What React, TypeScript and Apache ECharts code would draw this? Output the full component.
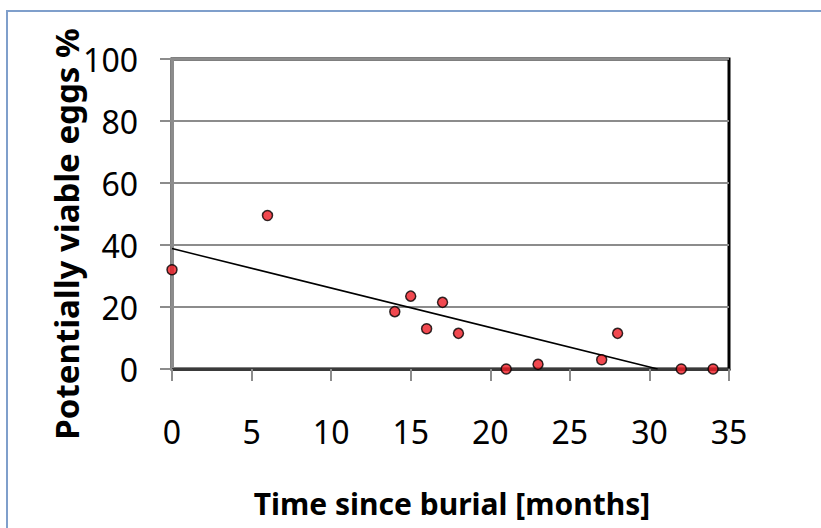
import React, { useEffect, useRef } from "react";
import * as echarts from "echarts";

const months = [0, 6, 14, 15, 16, 17, 18, 21, 23, 27, 28, 32, 34];
const viableEggs = [32, 49.5, 18.5, 23.5, 13, 21.5, 11.5, 0, 1.5, 3, 11.5, 0, 0];
const xTicks = { min: 0, max: 35, interval: 5 };
const yTicks = { min: 0, max: 100, interval: 20 };
const xTitle = "Time since burial [months]";
const yTitle = "Potentially viable eggs %";

function linearFit(xs: number[], ys: number[]) {
  const n = xs.length;
  const mx = xs.reduce((a, b) => a + b, 0) / n;
  const my = ys.reduce((a, b) => a + b, 0) / n;
  let sxy = 0, sxx = 0;
  for (let i = 0; i < n; i++) {
    sxy += (xs[i] - mx) * (ys[i] - my);
    sxx += (xs[i] - mx) * (xs[i] - mx);
  }
  const slope = sxy / sxx;
  return { slope, intercept: my - slope * mx };
}

export default function App() {
  const ref = useRef<HTMLDivElement>(null);
  useEffect(() => {
    if (!ref.current) return;
    const chart = echarts.init(ref.current, null, { renderer: "svg" });
    const { slope, intercept } = linearFit(months, viableEggs);
    const xZero = -intercept / slope;
    const trend = [
      [0, intercept],
      [Math.min(xZero, xTicks.max), Math.max(0, intercept + slope * Math.min(xZero, xTicks.max))],
    ];
    const font = "Noto Sans, sans-serif";
    chart.setOption({
      animation: false,
      backgroundColor: "#ffffff",
      grid: {
        left: 172,
        top: 59,
        width: 557,
        height: 310,
        show: true,
        borderColor: "#000000",
        borderWidth: 3,
        backgroundColor: "transparent",
      },
      xAxis: {
        type: "value",
        min: xTicks.min,
        max: xTicks.max,
        interval: xTicks.interval,
        axisLine: { show: true, onZero: false, lineStyle: { color: "#3a3a3a", width: 3 } },
        axisTick: { show: true, length: 12, lineStyle: { color: "#8c8c8c", width: 2 } },
        axisLabel: { fontFamily: font, fontSize: 32, color: "#000", margin: 46 },
        splitLine: { show: false },
      },
      yAxis: {
        type: "value",
        min: yTicks.min,
        max: yTicks.max,
        interval: yTicks.interval,
        axisLine: { show: true, onZero: false, lineStyle: { color: "#8c8c8c", width: 3 } },
        axisTick: { show: true, length: 12, lineStyle: { color: "#8c8c8c", width: 2 } },
        axisLabel: { fontFamily: font, fontSize: 32, color: "#000", margin: 34 },
        splitLine: { show: true, lineStyle: { color: "#8c8c8c", width: 2 } },
      },
      series: [
        {
          type: "line",
          data: trend,
          showSymbol: false,
          symbol: "none",
          lineStyle: { color: "#000", width: 1.5 },
          z: 3,
        },
        {
          type: "scatter",
          data: months.map((m, i) => [m, viableEggs[i]]),
          symbol: "circle",
          symbolSize: 10,
          itemStyle: { color: "#ee1c24", borderColor: "#000", borderWidth: 1.5 },
          z: 5,
        },
      ],
      graphic: [
        {
          type: "rect",
          shape: { x: 7, y: 11, width: 840, height: 540 },
          style: { fill: "none", stroke: "#7f9fcb", lineWidth: 2 },
          z: 10,
        },
        {
          type: "text",
          x: 452,
          y: 503,
          style: {
            text: xTitle,
            font: "bold 30px Noto Sans, sans-serif",
            fill: "#000",
            align: "center",
            verticalAlign: "middle",
          },
        },
        {
          type: "text",
          x: 66,
          y: 234,
          rotation: Math.PI / 2,
          style: {
            text: yTitle,
            font: "bold 33px Noto Sans, sans-serif",
            fill: "#000",
            align: "center",
            verticalAlign: "middle",
          },
        },
      ],
    });
    return () => chart.dispose();
  }, []);
  return <div ref={ref} style={{ width: 821, height: 528, position: "absolute", left: 0, top: 0 }} />;
}
